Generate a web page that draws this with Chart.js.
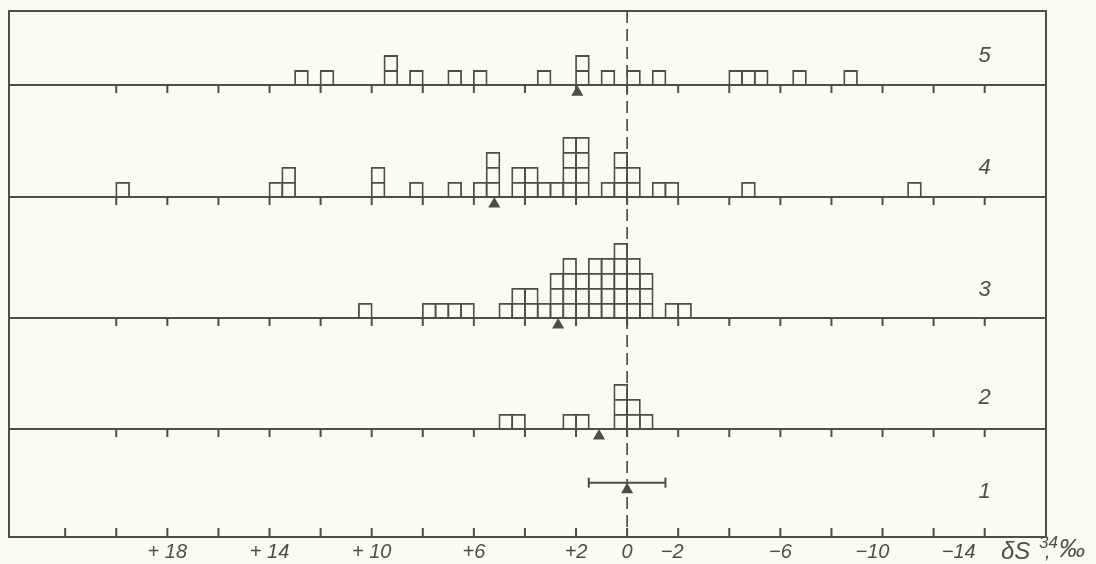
<!DOCTYPE html>
<html lang="ru">
<head>
<meta charset="UTF-8">
<title>δS34</title>
<script src="https://cdn.jsdelivr.net/npm/chart.js@4.4.1/dist/chart.umd.min.js"></script>
<style>
    html, body { margin: 0; background: #fbfbf2; }
    #wrap { width: 1096px; height: 564px; }
</style>
</head>
<body>
<div id="wrap"><canvas id="chart"></canvas></div>
<script>
    // histograms of δS34, 0.5 ‰ bins (lower edge of each bin) and number of samples
    const bins5 = [12.5, 11.5, 9, 8, 6.5, 5.5, 3, 1.5, 0.5, -0.5, -1.5, -4.5, -5, -5.5, -7, -9];
    const counts5 = [1, 1, 2, 1, 1, 1, 1, 2, 1, 1, 1, 1, 1, 1, 1, 1];

    const bins4 = [19.5, 13.5, 13, 9.5, 8, 6.5, 5.5, 5, 4, 3.5, 3, 2.5, 2, 1.5, 0.5, 0, -0.5, -1.5, -2, -5, -11.5];
    const counts4 = [1, 1, 2, 2, 1, 1, 1, 3, 2, 2, 1, 1, 4, 4, 1, 3, 2, 1, 1, 1, 1];

    const bins3 = [10, 7.5, 7, 6.5, 6, 4.5, 4, 3.5, 3, 2.5, 2, 1.5, 1, 0.5, 0, -0.5, -1, -2, -2.5];
    const counts3 = [1, 1, 1, 1, 1, 1, 2, 2, 1, 3, 4, 3, 4, 4, 5, 4, 3, 1, 1];

    const bins2 = [4.5, 4, 2, 1.5, 0, -0.5, -1];
    const counts2 = [1, 1, 1, 1, 3, 2, 1];

    // mean value for each group (1..5) and the spread of group 1
    const groups = ['1', '2', '3', '4', '5'];
    const means = [0, 1.1, 2.7, 5.2, 1.95];
    const range1 = [1.5, -1.5];

    const tickValues = [18, 14, 10, 6, 2, 0, -2, -6, -10, -14];
    const tickLabels = ['+ 18', '+ 14', '+ 10', '+6', '+2', '0', '\u22122', '\u22126', '\u221210', '\u221214'];

    // layout: y is measured in box heights, 0 = bottom axis
    const xLeft = 24.2, xRight = -16.4, yTop = 35.07;
    const base = [0, 7.2, 14.6, 22.67, 30.13];
    const numY = [3.0, 9.3, 16.5, 24.6, 32.1];
    const whiskerY = 3.62;
    const labelShift = {'-2': -6, '-10': -10, '-14': -26};
    const ink = '#4a4f47';
    const lw = 1.8;
    const font = '"Liberation Sans Narrow", "Liberation Sans", sans-serif';

    function boxes(bins, counts, y0) {
        let out = [];
        bins.forEach((b, i) => {
            for (let k = 0; k < counts[i]; k++) {
                out.push({x: b + 0.25, y: [y0 + k, y0 + k + 1]});
            }
        });
        return out;
    }

    // neighbouring boxes overlap by one border width so shared sides stay single
    const boxStyle = {
        type: 'bar',
        backgroundColor: 'rgba(0,0,0,0)',
        borderColor: ink,
        borderWidth: lw,
        borderSkipped: 'bottom',
        grouped: false,
        barPercentage: 1 + lw / 12.77,
        categoryPercentage: 1
    };

    let tickMarks = [];
    for (let v = 22; v >= -14; v -= 2) tickMarks.push(v);

    const frame = {
        id: 'frame',
        beforeDatasetsDraw(chart) {
            const {ctx, chartArea: a, scales: {x, y}} = chart;
            ctx.save();
            ctx.strokeStyle = ink;
            ctx.lineWidth = 2;
            ctx.strokeRect(a.left, a.top, a.right - a.left, a.bottom - a.top);

            // group baselines with ticks hanging below
            for (let g = 1; g < base.length; g++) {
                const yb = y.getPixelForValue(base[g]);
                ctx.beginPath();
                ctx.moveTo(a.left, yb);
                ctx.lineTo(a.right, yb);
                tickMarks.forEach(v => {
                    if (v > 20) return;
                    const xp = x.getPixelForValue(v);
                    ctx.moveTo(xp, yb);
                    ctx.lineTo(xp, yb + 8);
                });
                ctx.stroke();
            }
            // bottom axis ticks point up
            ctx.beginPath();
            tickMarks.forEach(v => {
                const xp = x.getPixelForValue(v);
                ctx.moveTo(xp, a.bottom);
                ctx.lineTo(xp, a.bottom - 9);
            });
            ctx.stroke();

            // zero line
            ctx.beginPath();
            ctx.setLineDash([12, 6]);
            ctx.lineWidth = 1.7;
            const x0 = x.getPixelForValue(0);
            ctx.moveTo(x0, a.top);
            ctx.lineTo(x0, a.bottom);
            ctx.stroke();
            ctx.restore();
        },
        afterDraw(chart) {
            const {ctx, chartArea: a, scales: {x, y}} = chart;
            ctx.save();
            ctx.fillStyle = ink;
            ctx.textAlign = 'center';
            ctx.textBaseline = 'middle';
            ctx.font = 'italic 22px ' + font;
            groups.forEach((g, i) => {
                ctx.fillText(g, x.getPixelForValue(-14), y.getPixelForValue(numY[i]));
            });

            // axis labels under the bottom line
            ctx.font = 'italic 20px ' + font;
            tickValues.forEach((v, i) => {
                const dx = labelShift[String(v)] || 0;
                ctx.fillText(tickLabels[i], x.getPixelForValue(v) + dx, a.bottom + 15);
            });

            // axis title
            ctx.textAlign = 'left';
            ctx.textBaseline = 'alphabetic';
            ctx.font = 'italic 24px ' + font;
            ctx.fillText('\u03b4S', 1001, 559);
            ctx.font = 'italic 17px ' + font;
            ctx.fillText('34', 1039, 548);
            ctx.font = 'italic 20px ' + font;
            ctx.fillText(',', 1045, 558);
            ctx.font = 'italic 26px ' + font;
            ctx.fillText('\u2030', 1059, 557);
            ctx.restore();
        }
    };

    const ctx = document.getElementById('chart').getContext('2d');
    new Chart(ctx, {
        type: 'bar',
        data: {
            datasets: [
                Object.assign({label: '2', data: boxes(bins2, counts2, base[1])}, boxStyle),
                Object.assign({label: '3', data: boxes(bins3, counts3, base[2])}, boxStyle),
                Object.assign({label: '4', data: boxes(bins4, counts4, base[3])}, boxStyle),
                Object.assign({label: '5', data: boxes(bins5, counts5, base[4])}, boxStyle),
                {
                    type: 'line',
                    label: 'range',
                    data: range1.map(v => ({x: v, y: whiskerY})),
                    borderColor: ink,
                    borderWidth: 2,
                    pointStyle: 'line',
                    pointRotation: 90,
                    pointRadius: 5,
                    pointBorderWidth: 2,
                    pointBorderColor: ink
                },
                {
                    type: 'scatter',
                    label: 'mean',
                    data: means.map((m, i) => ({x: m, y: (i === 0 ? whiskerY : base[i]) - 0.47})),
                    pointStyle: 'triangle',
                    pointRadius: 7,
                    pointBorderWidth: 0,
                    backgroundColor: ink,
                    borderColor: ink
                }
            ]
        },
        options: {
            responsive: true,
            maintainAspectRatio: false,
            animation: false,
            layout: {padding: {left: 9, right: 50, top: 11, bottom: 27}},
            plugins: {legend: {display: false}, tooltip: {enabled: false}},
            scales: {
                x: {
                    type: 'linear',
                    display: false,
                    reverse: true,
                    offset: false,
                    min: xRight,
                    max: xLeft,
                    afterBuildTicks: s => { s.ticks = tickMarks.map(v => ({value: v})); }
                },
                y: {display: false, min: 0, max: yTop}
            }
        },
        plugins: [frame]
    });
</script>
</body>
</html>
